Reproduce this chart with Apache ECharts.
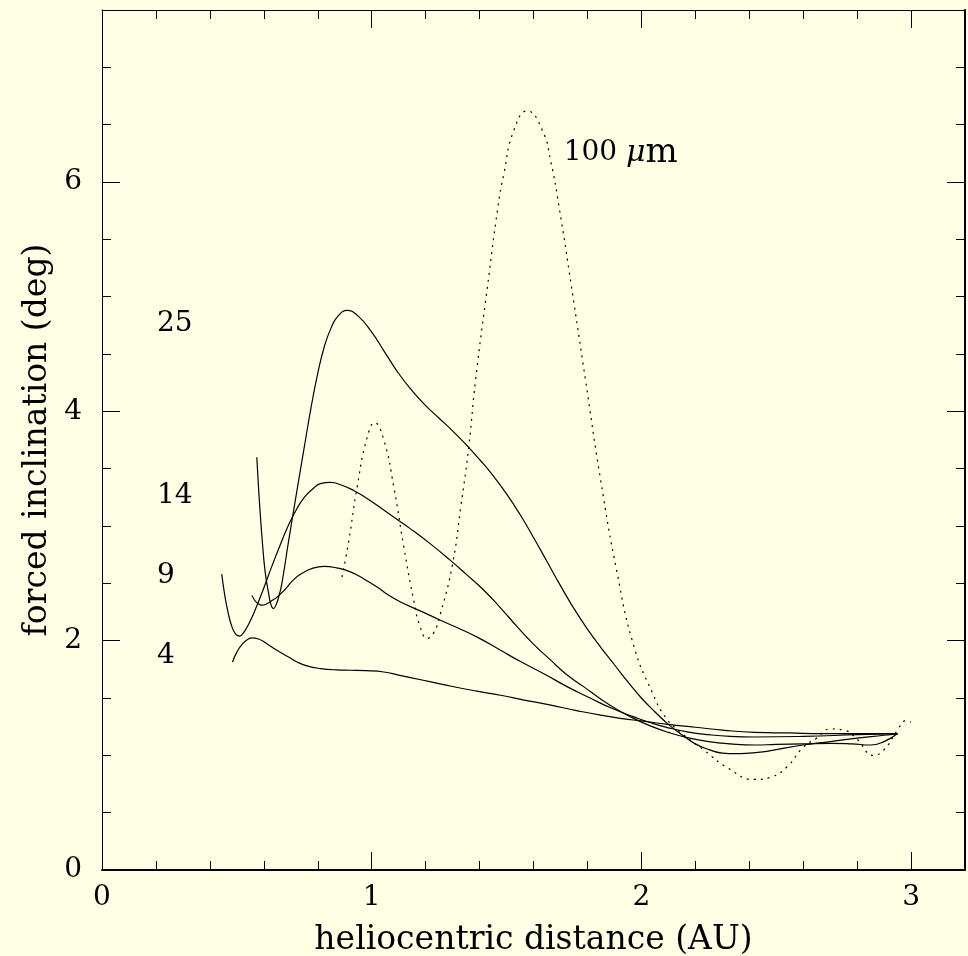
<!DOCTYPE html>
<html>
<head>
<meta charset="utf-8">
<script src="https://cdn.jsdelivr.net/npm/echarts@6/dist/echarts.min.js"></script>
<style>
  html, body { margin: 0; padding: 0; background: #ffffe6; }
  #chart { width: 968px; height: 956px; }
</style>
</head>
<body>
<div id="chart"></div>
<script>
// forced inclination vs heliocentric distance, one curve per grain size
const size4 = [[0.484,1.814],[0.50,1.90],[0.52,1.97],[0.54,2.01],[0.556,2.024],[0.58,2.015],[0.61,1.975],[0.649,1.916],[0.69,1.86],[0.723,1.814],[0.76,1.78],[0.81,1.757],[0.87,1.745],[0.921,1.742],[0.98,1.738],[1.045,1.727],[1.10,1.70],[1.144,1.678],[1.22,1.64],[1.3,1.60],[1.39,1.56],[1.478,1.524],[1.57,1.48],[1.66,1.44],[1.76,1.39],[1.849,1.35],[1.93,1.32],[2.0,1.30],[2.1,1.27],[2.2,1.245],[2.3,1.22],[2.42,1.20],[2.55,1.195],[2.67,1.19],[2.8,1.19],[2.95,1.19]];
const size9 = [[0.556,2.395],[0.567,2.35],[0.58,2.32],[0.593,2.31],[0.61,2.32],[0.63,2.35],[0.649,2.38],[0.68,2.45],[0.71,2.53],[0.74,2.585],[0.78,2.63],[0.822,2.648],[0.87,2.635],[0.921,2.60],[0.97,2.54],[1.02,2.468],[1.06,2.40],[1.107,2.337],[1.18,2.26],[1.255,2.178],[1.33,2.10],[1.40,2.02],[1.478,1.916],[1.55,1.82],[1.64,1.71],[1.726,1.597],[1.81,1.50],[1.89,1.41],[1.973,1.335],[2.04,1.28],[2.1,1.24],[2.17,1.205],[2.25,1.18],[2.33,1.165],[2.42,1.16],[2.6,1.165],[2.8,1.18],[2.95,1.19]];
const size14 = [[0.444,2.58],[0.455,2.40],[0.468,2.24],[0.482,2.12],[0.495,2.06],[0.51,2.04],[0.525,2.07],[0.545,2.15],[0.57,2.28],[0.60,2.46],[0.63,2.65],[0.66,2.83],[0.69,3.0],[0.72,3.14],[0.75,3.25],[0.78,3.32],[0.81,3.37],[0.847,3.38],[0.89,3.355],[0.933,3.31],[0.98,3.245],[1.02,3.18],[1.08,3.08],[1.144,2.975],[1.22,2.84],[1.292,2.70],[1.35,2.58],[1.416,2.44],[1.48,2.28],[1.54,2.12],[1.60,1.97],[1.664,1.83],[1.72,1.71],[1.787,1.597],[1.85,1.49],[1.91,1.40],[1.973,1.32],[2.04,1.25],[2.1,1.2],[2.17,1.155],[2.25,1.12],[2.33,1.10],[2.42,1.09],[2.5,1.095],[2.6,1.10],[2.7,1.105],[2.78,1.10],[2.85,1.09],[2.9,1.12],[2.95,1.19]];
const size25 = [[0.574,3.60],[0.580,3.35],[0.587,3.10],[0.595,2.85],[0.605,2.60],[0.618,2.41],[0.627,2.31],[0.636,2.28],[0.645,2.31],[0.655,2.38],[0.667,2.50],[0.692,2.87],[0.723,3.31],[0.748,3.66],[0.775,4.03],[0.80,4.33],[0.825,4.57],[0.85,4.73],[0.875,4.83],[0.909,4.88],[0.95,4.83],[1.0,4.69],[1.05,4.51],[1.10,4.33],[1.15,4.18],[1.20,4.05],[1.25,3.94],[1.30,3.83],[1.35,3.71],[1.40,3.58],[1.45,3.44],[1.50,3.28],[1.55,3.10],[1.60,2.90],[1.65,2.69],[1.70,2.48],[1.75,2.28],[1.80,2.10],[1.85,1.94],[1.90,1.79],[1.95,1.64],[2.00,1.50],[2.05,1.38],[2.10,1.27],[2.15,1.18],[2.20,1.10],[2.25,1.05],[2.30,1.02],[2.35,1.015],[2.40,1.02],[2.45,1.03],[2.50,1.05],[2.60,1.09],[2.70,1.12],[2.80,1.15],[2.90,1.175],[2.95,1.19]];
const size100 = [[0.89,2.555],[0.915,2.87],[0.946,3.34],[0.983,3.77],[1.011,3.90],[1.045,3.75],[1.082,3.34],[1.119,2.82],[1.156,2.35],[1.18,2.12],[1.206,2.02],[1.23,2.07],[1.255,2.235],[1.30,2.67],[1.33,3.16],[1.36,3.69],[1.385,4.27],[1.43,5.1],[1.468,5.78],[1.49,6.07],[1.527,6.45],[1.577,6.62],[1.633,6.45],[1.664,6.18],[1.695,5.78],[1.74,5.1],[1.793,4.27],[1.849,3.40],[1.911,2.58],[1.973,1.945],[2.04,1.55],[2.09,1.33],[2.146,1.2],[2.232,1.045],[2.32,0.89],[2.418,0.79],[2.48,0.81],[2.54,0.90],[2.60,1.07],[2.65,1.15],[2.70,1.23],[2.75,1.22],[2.80,1.14],[2.86,1.0],[2.90,1.05],[2.95,1.22],[2.98,1.30],[3.0,1.29]];

// curve labels (left edge of text, vertical centre)
const tagText = ["25", "14", "9", "4", "100 {mu|μ}{m|m}"];
const tagX = [0.204, 0.204, 0.204, 0.204, 1.712];
const tagY = [4.765, 3.267, 2.57, 1.873, 6.254];

const xRange = [0, 3.2];
const yRange = [0, 7.5];

const font = "DejaVu Serif";
const ink = "#000";
const gridBox = { left: 102, right: 3, top: 10, bottom: 86, outerBoundsMode: "none" };

const chart = echarts.init(document.getElementById("chart"));

// one axis pair per grid: major/minor ticks on each side
function xAx(idx, pos, interval, tickLen, lineW, labels) {
  return {
    type: "value", gridIndex: idx, position: pos,
    min: xRange[0], max: xRange[1], interval: interval,
    axisLine: { show: lineW > 0, onZero: false, lineStyle: { color: ink, width: lineW } },
    axisTick: { show: true, inside: true, length: tickLen, lineStyle: { color: ink, width: 1 } },
    axisLabel: { show: labels, margin: 14, fontFamily: font, fontSize: 28, color: ink, showMaxLabel: false },
    splitLine: { show: false },
  };
}
function yAx(idx, pos, interval, tickLen, lineW, labels) {
  return {
    type: "value", gridIndex: idx, position: pos,
    min: yRange[0], max: yRange[1], interval: interval,
    axisLine: { show: lineW > 0, onZero: false, lineStyle: { color: ink, width: lineW } },
    axisTick: { show: true, inside: true, length: tickLen, lineStyle: { color: ink, width: 1 } },
    axisLabel: { show: labels, margin: 20, fontFamily: font, fontSize: 28, color: ink, showMaxLabel: false },
    splitLine: { show: false },
  };
}

const xAxes = [
  xAx(0, "bottom", 1, 18, 2, true),
  xAx(1, "bottom", 0.2, 9, 0, false),
  xAx(2, "top", 1, 18, 1, false),
  xAx(3, "top", 0.2, 9, 0, false),
];
Object.assign(xAxes[0], {
  name: "heliocentric distance (AU)", nameLocation: "middle", nameGap: 54, nameMoveOverlap: false,
  nameTextStyle: { fontFamily: font, fontSize: 33, color: ink },
});
const yAxes = [
  yAx(0, "left", 2, 18, 1, true),
  yAx(1, "left", 0.5, 9, 0, false),
  yAx(2, "right", 2, 18, 2, false),
  yAx(3, "right", 0.5, 9, 0, false),
];
Object.assign(yAxes[0], {
  name: "forced inclination (deg)", nameLocation: "middle", nameGap: 48, nameMoveOverlap: false,
  nameTextStyle: { fontFamily: font, fontSize: 33, color: ink },
});

function curve(data, dotted) {
  return {
    type: "line", xAxisIndex: 0, yAxisIndex: 0, data: data,
    showSymbol: false, smooth: 0.5, silent: true,
    lineStyle: { color: ink, width: 1.2, type: dotted ? [2, 5] : "solid" },
  };
}

const tags = tagText.map((t, i) => [tagX[i], tagY[i], t]);

const option = {
  backgroundColor: "#ffffe6",
  animation: false,
  grid: [0, 1, 2, 3].map(() => Object.assign({ containLabel: false }, gridBox)),
  xAxis: xAxes,
  yAxis: yAxes,
  series: [
    curve(size4, false),
    curve(size9, false),
    curve(size14, false),
    curve(size25, false),
    curve(size100, true),
    {
      type: "scatter", xAxisIndex: 0, yAxisIndex: 0, data: tags,
      symbolSize: 0, silent: true,
      itemStyle: { opacity: 1 },
      label: {
        show: true, position: "right", distance: 0,
        formatter: (p) => p.data[2],
        fontFamily: font, fontSize: 28, color: ink, opacity: 1,
        rich: {
          mu: { fontFamily: font, fontSize: 30, fontStyle: "italic", color: ink },
          m: { fontFamily: font, fontSize: 34, color: ink },
        },
      },
    },
  ],
};
chart.setOption(option);
</script>
</body>
</html>
